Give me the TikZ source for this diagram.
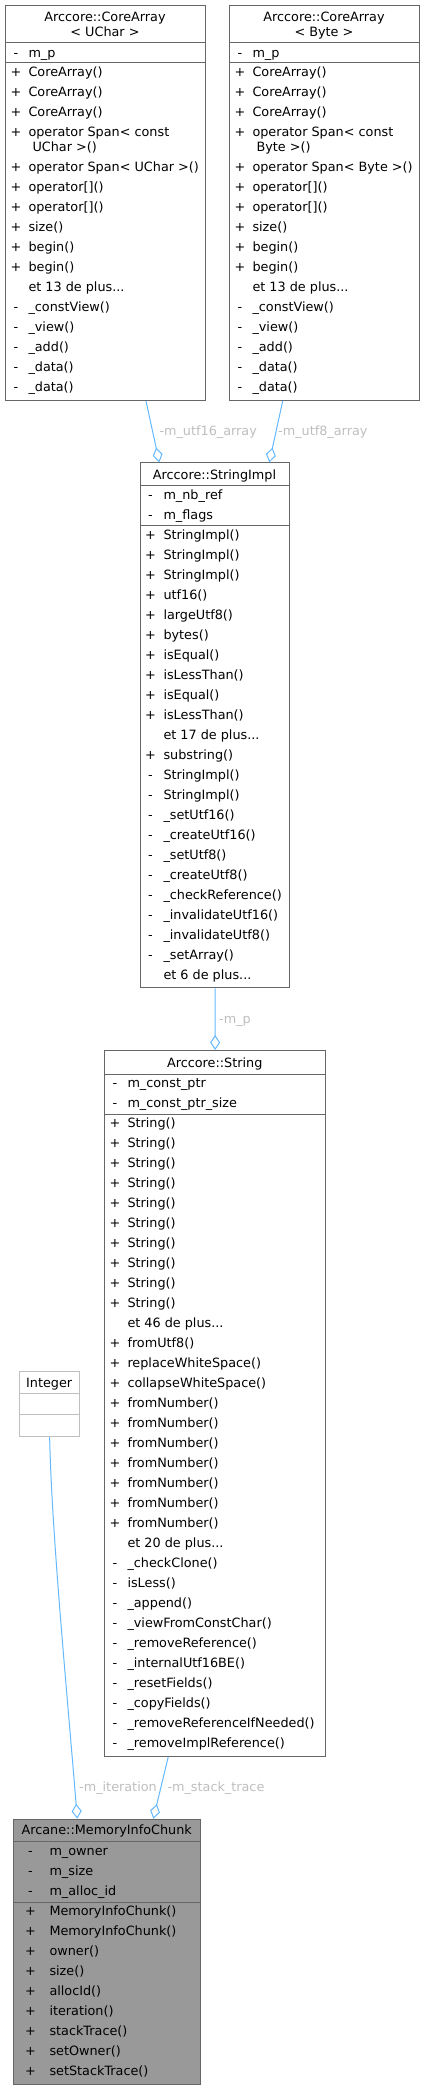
\documentclass[tikz,border=0pt]{standalone}
\usepackage{fontspec}
\setmainfont{DejaVu Sans}
\usetikzlibrary{arrows.meta,calc}
\definecolor{boxc}{HTML}{666666}
\definecolor{greyc}{HTML}{BFBFBF}
\definecolor{edgec}{HTML}{63B8FF}
\definecolor{lblc}{HTML}{BEBEBE}
\definecolor{focusc}{HTML}{999999}
\newcommand\dfont{\fontsize{12.8}{15}\selectfont}
\newcommand\pdots{...}
\newcommand\memrows[4]{%
  \foreach [count=\i] \yy/\sy/\tx in {#4} {%
    \node[symtxt] (#1s\i) at (#2,\yy+4.7) {\sy};
    \node[memtxt] (#1t\i) at (#3,\yy+4.7) {\tx};
  }}
\tikzset{
  cls/.style={draw=boxc, fill=white, line width=1pt, inner sep=0pt, anchor=north west},
  sepline/.style={draw=boxc, line width=1pt},
  ttl/.style={font=\dfont, anchor=base, inner sep=0pt},
  symtxt/.style={font=\dfont, anchor=base, inner sep=0pt},
  memtxt/.style={font=\dfont, anchor=base west, inner sep=0pt},
  conn/.style={draw=edgec, line width=1pt, -{Diamond[length=15pt, width=10pt, fill=white]}},
  elabel/.style={font=\dfont, text=lblc, anchor=base west, inner sep=0pt},
}
\begin{document}
\begin{tikzpicture}[x=1pt,y=-1pt]
\useasboundingbox (0,0) rectangle (424,2089);
% ---------- boxes
\node[cls, minimum width=200, minimum height=395] (A) at (5,5) {};
\node[cls, minimum width=189.4, minimum height=395] (B) at (229.3,5) {};
\node[cls, minimum width=149, minimum height=525] (C) at (140,462.3) {};
\node[cls, minimum width=221.3, minimum height=705.7] (D) at (104,1050) {};
\node[cls, draw=greyc, minimum width=60.3, minimum height=65.3] (E) at (19,1370.7) {};
\node[cls, fill=focusc, minimum width=186.7, minimum height=265.3] (F) at (13.3,1818.7) {};
% ---------- separators
\foreach \bx/\da/\db in {A/37.7/57.7, B/37.7/57.7, C/22.7/63.4, D/24/64, F/23/83.3} {
  \draw[sepline] ($(\bx.north west)+(0,\da)$) -- ($(\bx.north east)+(0,\da)$);
  \draw[sepline] ($(\bx.north west)+(0,\db)$) -- ($(\bx.north east)+(0,\db)$);
}
\draw[sepline, draw=greyc] ($(E.north west)+(0,23)$) -- ($(E.north east)+(0,23)$);
\draw[sepline, draw=greyc] ($(E.north west)+(0,43.3)$) -- ($(E.north east)+(0,43.3)$);
% ---------- titles
\node[ttl] (Ah1) at (105,21.4) {Arccore::CoreArray};
\node[ttl] (Ah2) at (105,36.4) {< UChar >};
\node[ttl] (Bh1) at (324,21.4) {Arccore::CoreArray};
\node[ttl] (Bh2) at (324,36.4) {< Byte >};
\node[ttl] (Ch) at (214.5,479.7) {Arccore::StringImpl};
\node[ttl] (Dh) at (214.7,1067.4) {Arccore::String};
\node[ttl] (Eh) at (49.2,1387.4) {Integer};
\node[ttl] (Fh) at (106.7,1834.7) {Arcane::MemoryInfoChunk};
% ---------- members
\memrows{A}{16}{28.3}{52.3/-/m\_p, 71.7/+/CoreArray(), 91.7/+/CoreArray(), 111.7/+/CoreArray(),
  131.7/+/operator Span< const, 146.7/{}/\hspace*{4pt}UChar >(), 166.7/+/operator Span< UChar >(),
  186.7/+/operator[](), 206.7/+/operator[](), 226.7/+/size(), 246.7/+/begin(), 266.7/+/begin(),
  286.7/{}/et 13 de plus\pdots, 306.7/-/\_constView(), 326.7/-/\_view(), 346.7/-/\_add(),
  366.7/-/\_data(), 386.7/-/\_data()}
\memrows{B}{240}{252.3}{52.3/-/m\_p, 71.7/+/CoreArray(), 91.7/+/CoreArray(), 111.7/+/CoreArray(),
  131.7/+/operator Span< const, 146.7/{}/\hspace*{4pt}Byte >(), 166.7/+/operator Span< Byte >(),
  186.7/+/operator[](), 206.7/+/operator[](), 226.7/+/size(), 246.7/+/begin(), 266.7/+/begin(),
  286.7/{}/et 13 de plus\pdots, 306.7/-/\_constView(), 326.7/-/\_view(), 346.7/-/\_add(),
  366.7/-/\_data(), 386.7/-/\_data()}
\memrows{C}{150.5}{163.3}{495/-/m\_nb\_ref, 515/-/m\_flags, 535/+/StringImpl(), 555/+/StringImpl(),
  575/+/StringImpl(), 595/+/utf16(), 615/+/largeUtf8(), 635/+/bytes(), 655/+/isEqual(),
  675/+/isLessThan(), 695/+/isEqual(), 715/+/isLessThan(), 735/{}/et 17 de plus\pdots,
  755/+/substring(), 775/-/StringImpl(), 795/-/StringImpl(), 815/-/\_setUtf16(),
  835/-/\_createUtf16(), 855/-/\_setUtf8(), 875/-/\_createUtf8(), 895/-/\_checkReference(),
  915/-/\_invalidateUtf16(), 935/-/\_invalidateUtf8(), 955/-/\_setArray(), 975/{}/et 6 de plus\pdots}
\memrows{D}{115}{127.3}{1082.7/-/m\_const\_ptr, 1102.7/-/m\_const\_ptr\_size,
  1122.7/+/String(), 1142.7/+/String(), 1162.7/+/String(), 1182.7/+/String(), 1202.7/+/String(),
  1222.7/+/String(), 1242.7/+/String(), 1262.7/+/String(), 1282.7/+/String(), 1302.7/+/String(),
  1322.7/{}/et 46 de plus\pdots, 1342.7/+/fromUtf8(), 1362.7/+/replaceWhiteSpace(),
  1382.7/+/collapseWhiteSpace(), 1402.7/+/fromNumber(), 1422.7/+/fromNumber(),
  1442.7/+/fromNumber(), 1462.7/+/fromNumber(), 1482.7/+/fromNumber(), 1502.7/+/fromNumber(),
  1522.7/+/fromNumber(), 1542.7/{}/et 20 de plus\pdots, 1562.7/-/\_checkClone(), 1582.7/-/isLess(),
  1602.7/-/\_append(), 1622.7/-/\_viewFromConstChar(), 1642.7/-/\_removeReference(),
  1662.7/-/\_internalUtf16BE(), 1682.7/-/\_resetFields(), 1702.7/-/\_copyFields(),
  1722.7/-/\_removeReferenceIfNeeded(), 1742.7/-/\_removeImplReference()}
\memrows{F}{30.5}{49.3}{1850.7/-/m\_owner, 1870.7/-/m\_size, 1890.7/-/m\_alloc\_id,
  1910.7/+/MemoryInfoChunk(), 1930.7/+/MemoryInfoChunk(), 1950.7/+/owner(), 1970.7/+/size(),
  1990.7/+/allocId(), 2010.7/+/iteration(), 2030.7/+/stackTrace(), 2050.7/+/setOwner(),
  2070.7/+/setStackTrace()}
% ---------- connectors
\draw[conn] ($(A.south west)+(141,0)$) -- ($(C.north west)+(19.3,0)$);
\draw[conn] ($(B.south west)+(53.4,0)$) -- ($(C.north west)+(129.3,0)$);
\draw[conn] (C.south) -- (D.north);
\draw[conn] (E.south) .. controls +(2,95) and +(-11.3,-138.7) .. ($(F.north west)+(64,0)$);
\draw[conn] ($(D.south west)+(64.3,0)$) -- ($(F.north west)+(140,0)$);
% ---------- connector labels
\node[elabel] (L1) at (159.3,435.4) {-m\_utf16\_array};
\node[elabel] (L2) at (278,435.4) {-m\_utf8\_array};
\node[elabel] (L3) at (219,1023.7) {-m\_p};
\node[elabel] (L4) at (79,1791.4) {-m\_iteration};
\node[elabel] (L5) at (167.3,1791.4) {-m\_stack\_trace};
\end{tikzpicture}
\end{document}
